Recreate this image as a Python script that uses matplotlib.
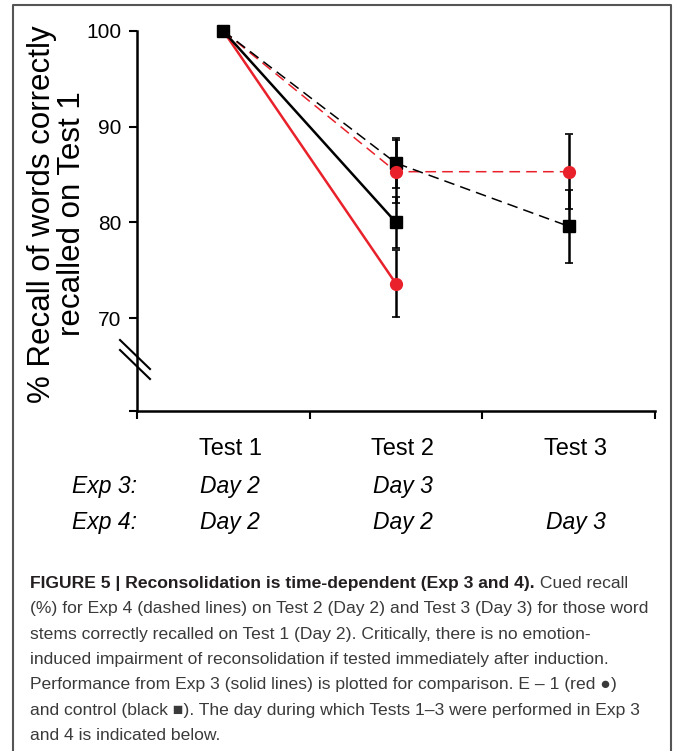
import matplotlib
matplotlib.use("Agg")
import matplotlib.pyplot as plt
from matplotlib.lines import Line2D
from matplotlib.transforms import blended_transform_factory

# categories on the x axis and the day each test was run
tests = ["Test 1", "Test 2", "Test 3"]
exp_rows = ["Exp 3:", "Exp 4:"]
exp3_days = ["Day 2", "Day 3", ""]
exp4_days = ["Day 2", "Day 2", "Day 3"]

# Exp 3 (solid lines), Test 1 and Test 2
exp3_x = [1, 2]
exp3_red = [100, 73.6]
exp3_red_err = [0, 3.5]
exp3_black = [100, 80.0]
exp3_black_err = [0, 2.7]

# Exp 4 (dashed lines), Test 1 to Test 3
exp4_x = [1, 2, 3]
exp4_red = [100, 85.3, 85.3]
exp4_red_err = [0, 3.3, 3.9]
exp4_black = [100, 86.2, 79.6]
exp4_black_err = [0, 2.6, 3.8]

yticks = [70, 80, 90, 100]
ybottom = 60.3

caption_bold = "FIGURE 5 | Reconsolidation is time-dependent (Exp 3 and 4)."
caption_lines = [
    " Cued recall",
    "(%) for Exp 4 (dashed lines) on Test 2 (Day 2) and Test 3 (Day 3) for those word",
    "stems correctly recalled on Test 1 (Day 2). Critically, there is no emotion-",
    "induced impairment of reconsolidation if tested immediately after induction.",
    "Performance from Exp 3 (solid lines) is plotted for comparison. E \u2013 1 (red \u25cf)",
    "and control (black \u25a0). The day during which Tests 1\u20133 were performed in Exp 3",
    "and 4 is indicated below.",
]

RED = "#e8212b"
W, H = 673, 751
CAP_SIZE = 12.6

plt.rcParams["font.family"] = ["Liberation Sans", "DejaVu Sans"]


def fx(x):
    return x / W


def fy(y):
    return 1 - y / H


fig = plt.figure(figsize=(W / 100, H / 100), dpi=100)
fig.patch.set_facecolor("white")

# frame round the figure (open at the bottom)
fig.add_artist(Line2D([fx(13), fx(13), fx(671), fx(671)],
                      [fy(751), fy(5), fy(5), fy(751)],
                      transform=fig.transFigure, color="#555555", lw=1.5))

ax = fig.add_axes([fx(137), fy(411), 518 / W, 380 / H])
ax.set_xlim(0.5, 3.5)
ax.set_ylim(ybottom, 100)

# error bars first, all black
for xs, ys, es in [(exp3_x, exp3_red, exp3_red_err),
                   (exp3_x, exp3_black, exp3_black_err),
                   (exp4_x, exp4_red, exp4_red_err),
                   (exp4_x, exp4_black, exp4_black_err)]:
    ax.errorbar(xs[1:], ys[1:], yerr=es[1:], fmt="none", ecolor="black",
                elinewidth=1.8, capsize=3, capthick=1.2, zorder=3,
                clip_on=False)

# lines
ax.plot(exp3_x, exp3_red, color=RED, lw=1.8, zorder=2, clip_on=False)
ax.plot(exp3_x, exp3_black, color="black", lw=1.8, zorder=2, clip_on=False)
ax.plot(exp4_x, exp4_red, color=RED, lw=1.1, dashes=(7, 4), zorder=2,
        clip_on=False)
ax.plot(exp4_x, exp4_black, color="black", lw=1.1, dashes=(7, 4), zorder=2,
        clip_on=False)

# markers: black squares under red circles, Test 1 square on top
ax.plot(exp3_x[1:], exp3_black[1:], "s", color="black", ms=8.5, zorder=4,
        clip_on=False)
ax.plot(exp4_x[1:], exp4_black[1:], "s", color="black", ms=8.5, zorder=4,
        clip_on=False)
ax.plot(exp3_x[1:], exp3_red[1:], "o", color=RED, ms=8.5, zorder=5,
        clip_on=False)
ax.plot(exp4_x[1:], exp4_red[1:], "o", color=RED, ms=8.5, zorder=5,
        clip_on=False)
ax.plot(exp4_x[:1], exp4_black[:1], "s", color="black", ms=8.5, zorder=6,
        clip_on=False)

for side in ["top", "right"]:
    ax.spines[side].set_visible(False)
for side in ["left", "bottom"]:
    ax.spines[side].set_linewidth(1.8)

ax.set_xticks([0.5, 1.5, 2.5, 3.5])
ax.set_xticklabels([])
ax.set_yticks([ybottom] + yticks)
ax.set_yticklabels([""] + [str(v) for v in yticks])
ax.tick_params(direction="out", length=6, width=1.5, pad=5, labelsize=15)

# axis break marks
for dy in [0, -10]:
    ax.plot([-17 / 518, 13 / 518],
            [(71 + dy) / 380, (42 + dy) / 380],
            transform=ax.transAxes, color="black", lw=1.5, clip_on=False)

fig.text(fx(57), fy(214), "% Recall of words correctly\nrecalled on Test 1",
         rotation=90, ha="center", va="center", fontsize=22.5,
         linespacing=1.0, multialignment="center")

# test names and the day table under the axis
tr = blended_transform_factory(ax.transData, fig.transFigure)
for i, name in enumerate(tests):
    ax.text(i + 1.04, fy(455), name, transform=tr, ha="center",
            va="baseline", fontsize=17)
for row, (label, days) in enumerate(zip(exp_rows, [exp3_days, exp4_days])):
    base = fy(493 + 36 * row)
    ax.text(0.31, base, label, transform=tr, ha="center", va="baseline",
            fontsize=16.5, style="italic")
    for i, d in enumerate(days):
        ax.text(i + 1.04, base, d, transform=tr, ha="center",
                va="baseline", fontsize=16.5, style="italic")

# caption
t_bold = fig.text(fx(30), fy(588), caption_bold, ha="left", va="baseline",
                  fontsize=CAP_SIZE, fontweight="bold", color="#231f20")
fig.canvas.draw()
bb = t_bold.get_window_extent()
fig.text(bb.x1 / W, fy(588), caption_lines[0], ha="left", va="baseline",
         fontsize=CAP_SIZE, color="#3a3a3a")
for k, line in enumerate(caption_lines[1:], start=1):
    fig.text(fx(30), fy(588 + 25.3 * k), line, ha="left", va="baseline",
             fontsize=CAP_SIZE, color="#3a3a3a")

fig.savefig("out.png", dpi=100)
